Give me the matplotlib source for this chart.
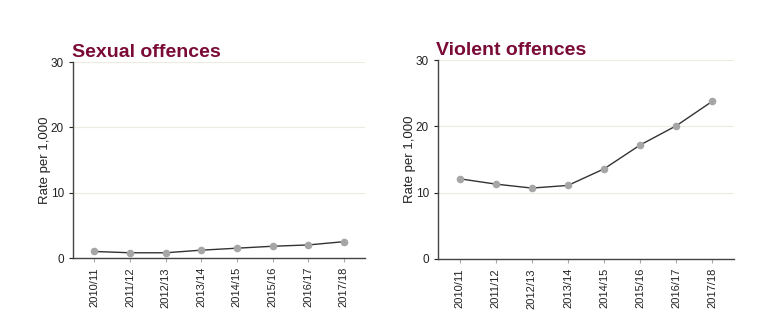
import numpy as np
import matplotlib
matplotlib.use("Agg")
import matplotlib.pyplot as plt

# Data
years = ["2010/11", "2011/12", "2012/13", "2013/14",
         "2014/15", "2015/16", "2016/17", "2017/18"]
sexual = [1.0, 0.8, 0.8, 1.2, 1.5, 1.8, 2.0, 2.5]
violent = [12.1, 11.3, 10.7, 11.1, 13.6, 17.2, 20.1, 23.8]

plt.rcParams['font.family'] = ['Liberation Sans', 'DejaVu Sans']

fig = plt.figure(figsize=(7.65, 3.27), dpi=100)
ax1 = fig.add_axes([0.0954, 0.211, 0.382, 0.599])
ax2 = fig.add_axes([0.5725, 0.208, 0.387, 0.608])

title_col = "#7a0a36"

for ax, vals, title in [(ax1, sexual, "Sexual offences"),
                        (ax2, violent, "Violent offences")]:
    x = np.arange(len(years))
    ax.plot(x, vals, color="#333333", lw=1, zorder=2)
    ax.scatter(x, vals, color="#a6a6a6", s=20, zorder=3)
    ax.set_ylim(0, 30)
    ax.set_xlim(-0.6, len(years) - 0.4)
    ax.set_yticks([0, 10, 20, 30])
    ax.set_xticks(x)
    ax.set_xticklabels(years, rotation=90, fontsize=8, color="#222222")
    ax.tick_params(axis="y", labelsize=8.5, colors="#222222", length=3,
                   width=0.8)
    ax.tick_params(axis="x", length=3, width=0.8, color="#aaaaaa")
    ax.grid(axis="y", color="#ecebe0", lw=0.8, zorder=0)
    ax.set_axisbelow(True)
    for s in ["top", "right"]:
        ax.spines[s].set_visible(False)
    ax.spines["left"].set_color("#444444")
    ax.spines["bottom"].set_color("#444444")
    ax.spines["left"].set_linewidth(1)
    ax.spines["bottom"].set_linewidth(1)
    ax.set_ylabel("Rate per 1,000", fontsize=9.5, color="#222222", labelpad=0)
    ax.set_title(title, loc="left", fontsize=14, fontweight="bold",
                 color=title_col, pad=4, x=-0.005)

fig.savefig("out.png", dpi=100)
